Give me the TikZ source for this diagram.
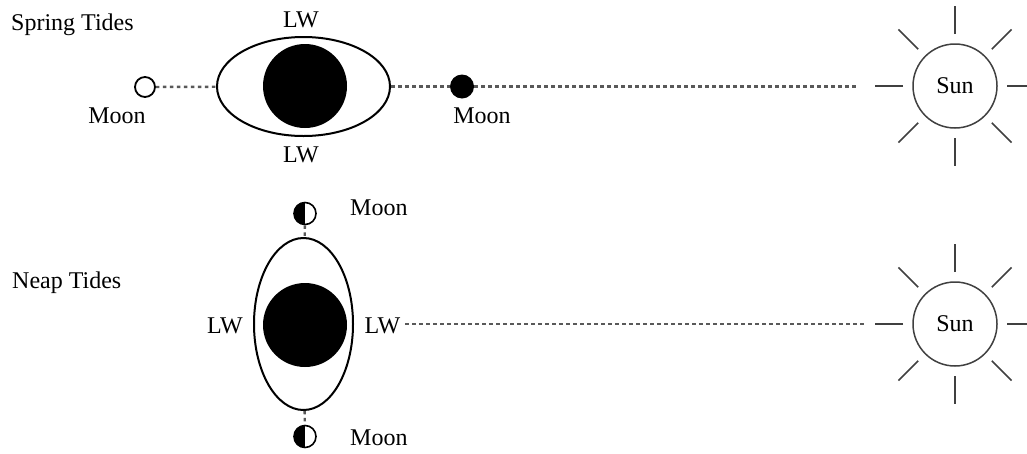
\documentclass[tikz,border=0pt]{standalone}
\usepackage{fontspec}
\setmainfont{Liberation Serif}
\usetikzlibrary{shapes.geometric}

\tikzset{
  lbl/.style={font=\fontsize{24}{28}\selectfont, inner sep=0pt},
  bulge/.style={ellipse, draw, line width=2, inner sep=0pt},
  earth/.style={circle, fill=black, minimum size=84, inner sep=0pt},
  moonfull/.style={circle, fill=black, minimum size=24, inner sep=0pt},
  moonnew/.style={circle, draw, line width=1.8, minimum size=20, inner sep=0pt},
  moonhalf/.style={circle, draw, line width=1.6, minimum size=22, inner sep=0pt,
    path picture={\fill[black] (path picture bounding box.north west) rectangle (path picture bounding box.south);}},
  sun/.style={circle, draw=black!75, line width=1.5, minimum size=84, inner sep=0pt,
    font=\fontsize{24}{28}\selectfont},
  ray/.style={draw=black!75, line width=1.5},
  tideline/.style={draw=black!65, line width=2.4, dash pattern=on 3.5pt off 3.5pt},
}

\begin{document}
\begin{tikzpicture}[x=1pt, y=-1pt]
  \useasboundingbox (0,0) rectangle (1027,453);

  % spring tides: moons in line with earth and sun
  \node[lbl, anchor=base west] (springlbl) at (11,30) {Spring Tides};
  \node[bulge, minimum width=173, minimum height=99] (bulgeA) at (303.5,86.5) {};
  \node[earth] (earthA) at (305,86) {};
  \node[lbl, anchor=base] (lwAn) at (301,27) {LW};
  \node[lbl, anchor=base] (lwAs) at (301,162) {LW};
  \node[moonnew] (moonA) at (145,87) {};
  \node[lbl, anchor=base] (moonAlbl) at (117,123) {Moon};
  \node[moonfull] (moonB) at (462,86.5) {};
  \node[lbl, anchor=base] (moonBlbl) at (482,123) {Moon};
  \node[sun] (sunA) at (955,86) {Sun};
  \coordinate (endA) at (859,86.5);

  \draw[tideline] (moonA) -- (bulgeA);
  \draw[tideline] (bulgeA) -- (moonB);
  \draw[tideline] (moonB) -- (endA);

  % neap tides: moons at right angles
  \node[lbl, anchor=base west] (neaplbl) at (12,288) {Neap Tides};
  \node[bulge, minimum width=99, minimum height=172] (bulgeB) at (303.5,324) {};
  \node[earth] (earthB) at (305,325) {};
  \node[lbl, anchor=base] (lwBw) at (225,333) {LW};
  \node[lbl, anchor=base] (lwBe) at (382.5,333) {LW};
  \node[moonhalf] (moonN) at (305,213.5) {};
  \node[moonhalf] (moonS) at (305,436.5) {};
  \node[lbl, anchor=base west] (moonNlbl) at (350,215) {Moon};
  \node[lbl, anchor=base west] (moonSlbl) at (350,445) {Moon};
  \node[sun] (sunB) at (955,324) {Sun};
  \coordinate (endB) at (866,324);

  \draw[tideline] (moonN) -- (bulgeB);
  \draw[tideline] (bulgeB) -- (moonS);
  \draw[tideline] ([xshift=5]lwBe.east |- endB) -- (endB);

  % sun rays
  \foreach \s in {sunA, sunB}
    \foreach \a in {0,45,...,315}
      \draw[ray] ([shift={(\a:52)}]\s.center) -- ([shift={(\a:80)}]\s.center);
\end{tikzpicture}
\end{document}
